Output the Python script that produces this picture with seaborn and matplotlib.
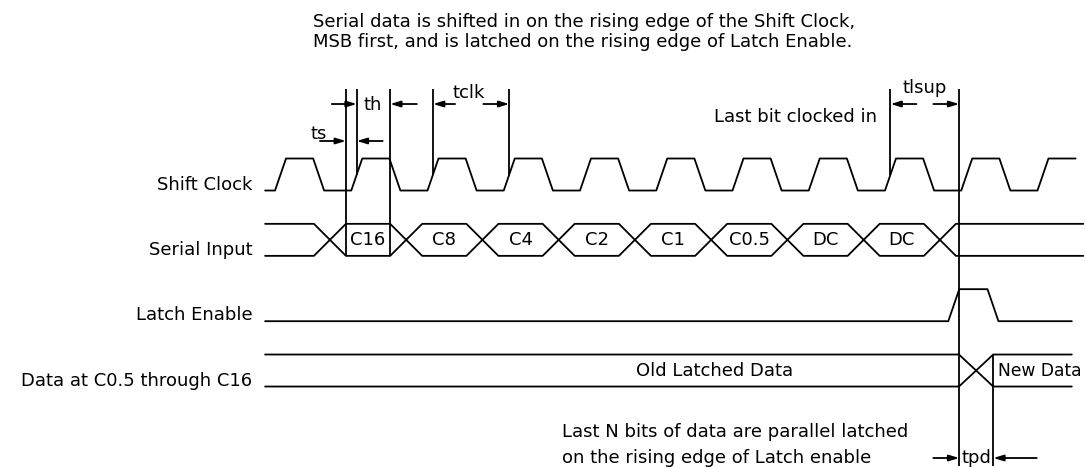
import numpy as np
import pandas as pd
import matplotlib
matplotlib.use("Agg")
import matplotlib.pyplot as plt
import seaborn as sns

# ---------------- data ----------------
signal_names = ["Shift Clock", "Serial Input", "Latch Enable", "Data at C0.5 through C16"]
serial_bits = ["C16", "C8", "C4", "C2", "C1", "C0.5", "DC", "DC"]
latched_labels = ["Old Latched Data", "New Data"]
timing_labels = ["ts", "th", "tclk", "tlsup", "tpd"]
title_lines = ["Serial data is shifted in on the rising edge of the Shift Clock,",
               "MSB first, and is latched on the rising edge of Latch Enable."]
note_lines = ["Last N bits of data are parallel latched",
              "on the rising edge of Latch enable"]
last_bit_note = "Last bit clocked in"

# timing, in clock periods
clock_rises = [0, 1, 2, 3, 4, 5, 6, 7, 8, 9, 10]
edge_time = 0.144          # rise / fall time
half_period = 0.5
t_start = -0.13
clock_end = 10.5
serial_first_cross = 0.72
serial_half_x = 0.21
serial_end = 10.6
latch_rise = 8.83
latch_high = 0.37
latch_end = 10.45
data_cross = [8.97, 9.42]
data_end = 10.45

# ---------------- layout ----------------
AMP = 0.245                     # half swing of a trace (row units)
rows = {name: -i for i, name in enumerate(signal_names)}
V_TOP = 1.309                   # top of the marker lines
V_BOTTOM = -4.462
V_ARROW = 1.079
V_TS = 0.513

sns.set_theme(style="white")
plt.rcParams["font.family"] = ["DejaVu Sans"]
plt.rcParams["text.color"] = "black"
LW = 1.3
FS = 13

fig = plt.figure(figsize=(10.85, 4.68), dpi=100)
ax = fig.add_axes([0, 0, 1, 1])
ax.set_xlim(-3.607, 10.623)
ax.set_ylim(-4.492, 2.671)
ax.axis("off")

records = []
def add(seg, pts):
    for t, v in pts:
        records.append({"seg": seg, "t": t, "v": v})

# Shift clock
y0 = rows["Shift Clock"]
hi, lo = y0 + AMP, y0 - AMP
pts = [(t_start, lo)]
for k in clock_rises:
    pts += [(k, lo), (k + edge_time, hi)]
    if k + half_period < clock_end:
        pts += [(k + half_period, hi), (k + half_period + edge_time, lo)]
    else:
        pts += [(clock_end, hi)]
add("clock", pts)

# Serial input (two rails crossing at each bit boundary)
y1 = rows["Serial Input"]
hi, lo = y1 + AMP, y1 - AMP
crosses = [serial_first_cross + k for k in range(len(serial_bits) + 1)]
railA, railB = [(t_start, hi)], [(t_start, lo)]
state = 0
for c in crosses:
    a_from, a_to = (hi, lo) if state == 0 else (lo, hi)
    railA += [(c - serial_half_x, a_from), (c + serial_half_x, a_to)]
    railB += [(c - serial_half_x, a_to), (c + serial_half_x, a_from)]
    state = 1 - state
railA.append((serial_end, railA[-1][1]))
railB.append((serial_end, railB[-1][1]))
add("serialA", railA)
add("serialB", railB)

# Latch enable
y2 = rows["Latch Enable"]
hi, lo = y2 + AMP, y2 - AMP
add("latch", [(t_start, lo), (latch_rise, lo), (latch_rise + edge_time, hi),
              (latch_rise + edge_time + latch_high, hi),
              (latch_rise + 2 * edge_time + latch_high, lo), (latch_end, lo)])

# Latched data
y3 = rows["Data at C0.5 through C16"]
hi, lo = y3 + AMP, y3 - AMP
add("dataA", [(t_start, hi), (data_cross[0], hi), (data_cross[1], lo), (data_end, lo)])
add("dataB", [(t_start, lo), (data_cross[0], lo), (data_cross[1], hi), (data_end, hi)])

df = pd.DataFrame(records)
sns.lineplot(data=df, x="t", y="v", units="seg", estimator=None, sort=False,
             color="black", lw=LW, ax=ax, legend=False)

# signal names
for name in signal_names:
    ax.text(-0.30, rows[name] - 0.155, name, ha="right", va="center", fontsize=FS)

# bit labels
for k, b in enumerate(serial_bits):
    mid = (crosses[k] + crosses[k + 1]) / 2
    ax.text(mid, y1, b, ha="center", va="center", fontsize=FS)

ax.text(5.77, y3, latched_labels[0], ha="center", va="center", fontsize=FS)
ax.text(9.485, y3, latched_labels[1], ha="left", va="center", fontsize=12.3)

# marker lines
t_ts = serial_first_cross + serial_half_x
t_edge1 = 1 + edge_time / 2
t_hold = crosses[1] - serial_half_x
t_clk = [2 + edge_time / 2, 3 + edge_time / 2]
t_last = 8 + edge_time / 2
t_latch = latch_rise + edge_time
ax.vlines([t_ts, t_hold], y1 - AMP, V_TOP, color="black", lw=LW)
ax.vlines([t_edge1] + t_clk + [t_last], y0, V_TOP, color="black", lw=LW)
ax.vlines([t_latch], V_BOTTOM, V_TOP, color="black", lw=LW)
ax.vlines([data_cross[1]], V_BOTTOM, y3 + AMP, color="black", lw=LW)

def arrow(t_tail, t_head, v):
    ax.annotate("", xy=(t_head, v), xytext=(t_tail, v),
                arrowprops=dict(arrowstyle="-|>,head_length=0.5,head_width=0.15",
                                mutation_scale=12, lw=LW, color="black",
                                shrinkA=0, shrinkB=0))

L = 0.34
# ts
arrow(t_ts - L, t_ts, V_TS)
arrow(t_edge1 + L, t_edge1, V_TS)
ax.text(0.577, 0.618, timing_labels[0], ha="center", va="center", fontsize=FS)
# th
arrow(t_edge1 - 0.327, t_edge1, V_ARROW)
arrow(t_hold + 0.35, t_hold, V_ARROW)
ax.text(1.285, 1.064, timing_labels[1], ha="center", va="center", fontsize=FS)
# tclk
arrow(t_clk[0] + 0.29, t_clk[0], V_ARROW)
arrow(t_clk[1] - L, t_clk[1], V_ARROW)
ax.text(2.544, 1.247, timing_labels[2], ha="center", va="center", fontsize=FS)
# tlsup
arrow(t_last + L, t_last, V_ARROW)
arrow(t_latch - L, t_latch, V_ARROW)
ax.text(8.525, 1.324, timing_labels[3], ha="center", va="center", fontsize=FS)
# tpd
v_tpd = -4.339
arrow(t_latch - L, t_latch, v_tpd)
arrow(data_cross[1] + 0.57, data_cross[1], v_tpd)
ax.text((t_latch + data_cross[1]) / 2, v_tpd, timing_labels[4], ha="center",
        va="center", fontsize=FS)

ax.text(7.895, 0.88, last_bit_note, ha="right", va="center", fontsize=FS)

# title & notes
ax.text(0.498, 2.334, title_lines[0], ha="left", va="center", fontsize=FS)
ax.text(0.498, 2.028, title_lines[1], ha="left", va="center", fontsize=FS)
ax.text(3.76, -3.94, note_lines[0], ha="left", va="center", fontsize=FS)
ax.text(3.76, -4.339, note_lines[1], ha="left", va="center", fontsize=FS)

fig.savefig("out.png", dpi=100, facecolor="white")
